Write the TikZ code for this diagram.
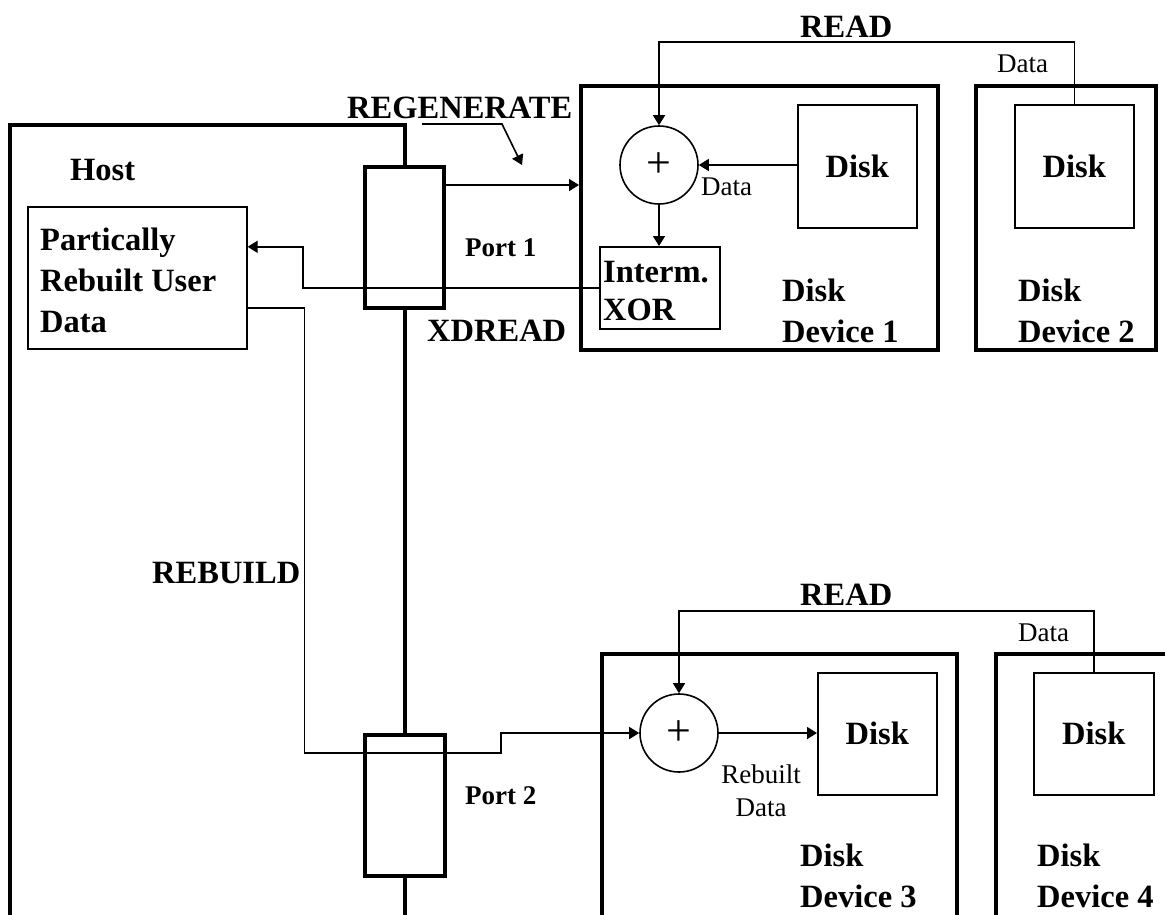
\documentclass[tikz,border=0pt]{standalone}
\usepackage{fontspec}
\setmainfont{Liberation Serif}
\usetikzlibrary{arrows.meta,calc}
\begin{document}
\begin{tikzpicture}[x=1pt,y=-1pt,
  thickbox/.style={draw,line width=4pt,inner sep=0pt,anchor=north west},
  thinbox/.style={draw,line width=1.6pt,inner sep=0pt,anchor=north west},
  portbox/.style={thickbox,fill=white},
  xorc/.style={draw,circle,line width=1.6pt,minimum size=78pt,inner sep=0pt,font=\fontsize{44}{46}\selectfont},
  big/.style={font=\bfseries\fontsize{32.5}{41}\selectfont,inner sep=0pt,align=left},
  portlbl/.style={big,font=\bfseries\fontsize{27}{30}\selectfont},
  small/.style={font=\fontsize{27}{33}\selectfont,inner sep=0pt},
  conn/.style={line width=1.6pt},
  arr/.style={conn,-{Triangle[length=10pt,width=12pt]}}]
\useasboundingbox (0,0) rectangle (1165,914);
\clip (0,0) rectangle (1165,914);
% host
\node[thickbox,minimum width=395pt,minimum height=900pt] (host) at (8,123) {};
\node[big,anchor=base west] (hostlbl) at (70,180) {Host};
\node[thinbox,minimum width=219pt,minimum height=142pt] (part) at (27,206) {};
\node[big,anchor=base west] (parttxt) at (40,332) {Partically\\Rebuilt User\\Data};
% ports
\node[portbox,minimum width=79pt,minimum height=141pt] (port1) at (363,165) {};
\node[portbox,minimum width=80pt,minimum height=141pt] (port2) at (363,733) {};
\node[portlbl,anchor=base west] (p1lbl) at (465,256) {Port 1};
\node[portlbl,anchor=base west] (p2lbl) at (465,804) {Port 2};
\node[big,anchor=base west] (xdread) at (427,341) {XDREAD};
\node[big,anchor=base west] (regen) at (347,118) {REGENERATE};
\node[big,anchor=base west] (rebuild) at (152,583) {REBUILD};
% disk devices
\node[thickbox,minimum width=357pt,minimum height=264pt] (dd1) at (579,84) {};
\node[thickbox,minimum width=180pt,minimum height=264pt] (dd2) at (974,84) {};
\node[thickbox,minimum width=355pt,minimum height=400pt] (dd3) at (600,652) {};
\node[thickbox,minimum width=300pt,minimum height=400pt] (dd4) at (994,652) {};
\node[big,anchor=base west] (dd1lbl) at (782,342) {Disk\\Device 1};
\node[big,anchor=base west] (dd2lbl) at (1018,342) {Disk\\Device 2};
\node[big,anchor=base west] (dd3lbl) at (800,907) {Disk\\Device 3};
\node[big,anchor=base west] (dd4lbl) at (1037,907) {Disk\\Device 4};
% disks
\node[thinbox,minimum width=119pt,minimum height=123pt] (disk1) at (797,104) {};
\node[thinbox,minimum width=119pt,minimum height=123pt] (disk2) at (1014,104) {};
\node[thinbox,minimum width=119pt,minimum height=122pt] (disk3) at (817,672) {};
\node[thinbox,minimum width=120pt,minimum height=122pt] (disk4) at (1033,672) {};
\node[big] (d1t) at (disk1.center) {Disk};
\node[big] (d2t) at (disk2.center) {Disk};
\node[big] (d3t) at (disk3.center) {Disk};
\node[big] (d4t) at (disk4.center) {Disk};
% xor circles
\node[xorc] (c1) at (659,165) {+};
\node[xorc] (c2) at (679,733) {+};
\node[thinbox,minimum width=120pt,minimum height=82pt] (xor) at (599,246) {};
\node[big,font=\bfseries\fontsize{32.5}{38}\selectfont,anchor=base west] (xortxt) at (603,320) {Interm.\\XOR};
% small labels
\node[big,anchor=base west] (read1) at (800,37) {READ};
\node[big,anchor=base west] (read2) at (800,605) {READ};
\node[small,anchor=base west] (data1) at (997,72) {Data};
\node[small,anchor=base west] (data2) at (1018,641) {Data};
\node[small,anchor=base west] (data3) at (701,195) {Data};
\node[small,align=center,anchor=base] (rbd) at (761,816) {Rebuilt\\Data};
% connectors
\coordinate (p1out) at ([yshift=-20pt]port1.north east);
\coordinate (partin) at ([yshift=31pt]part.east);
\coordinate (partout) at ([yshift=-30pt]part.east);
\draw[arr] (p1out) -- (dd1.west |- p1out);
\draw[arr] (disk2.north) -- ++(0,-62) -| (c1.north);
\draw[arr] (disk1.west |- c1.east) -- (c1.east);
\draw[arr] (c1.south) -- (xor.north -| c1.south);
\draw[arr] (xor.west) -- ++(-296,0) |- (partin);
\draw[arr] (partout) -- ++(57,0) |- (501,753) |- (c2.west);
\draw[arr] (c2.east) -- (disk3.west |- c2.east);
\draw[arr] (disk4.north) -- ++(0,-61) -| (c2.north);
\coordinate (lead) at (422,124);
\coordinate (leadtip) at (522,165);
\draw[arr] (lead) -- ++(80,0) -- (leadtip);
\end{tikzpicture}
\end{document}
